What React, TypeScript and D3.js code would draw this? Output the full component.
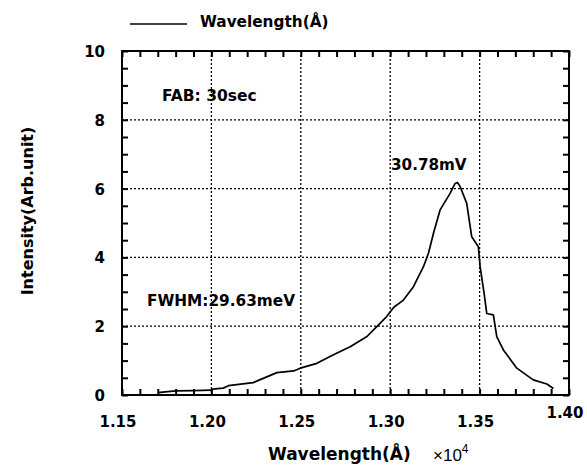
import React, { useRef, useEffect } from 'react';
import * as d3 from 'd3';

// spectrum (x in units of 1e4 Å)
const wavelength = [1.170, 1.180, 1.190, 1.1995, 1.2005, 1.2066, 1.2095, 1.2234, 1.2366, 1.246, 1.2497, 1.259, 1.268, 1.2776, 1.287, 1.2925, 1.298, 1.302, 1.3074, 1.313, 1.3186, 1.3214, 1.3242, 1.3279, 1.3335, 1.3363, 1.3376, 1.3391, 1.3428, 1.3456, 1.3493, 1.3503, 1.3525, 1.354, 1.3577, 1.3596, 1.3633, 1.3708, 1.380, 1.3876, 1.3913];
const intensity = [0.07, 0.12, 0.13, 0.14, 0.17, 0.2, 0.27, 0.36, 0.65, 0.7, 0.78, 0.92, 1.16, 1.4, 1.7, 1.99, 2.28, 2.55, 2.76, 3.15, 3.73, 4.12, 4.7, 5.38, 5.86, 6.15, 6.18, 6.06, 5.57, 4.6, 4.31, 3.73, 2.96, 2.37, 2.33, 1.7, 1.31, 0.78, 0.44, 0.32, 0.19];

const xTicks = [1.15, 1.2, 1.25, 1.3, 1.35, 1.4];
const yTicks = [0, 2, 4, 6, 8, 10];

const App = () => {
  const svgRef = useRef<SVGSVGElement>(null);

  useEffect(() => {
    if (!svgRef.current) return;
    const svg = d3.select(svgRef.current);
    svg.selectAll('*').remove();

    const left = 122, right = 569, top = 51, bottom = 395;
    const x = d3.scaleLinear().domain([1.15, 1.4]).range([left, right]);
    const y = d3.scaleLinear().domain([0, 10]).range([bottom, top]);
    const font = 'DejaVu Sans, Arial, sans-serif';

    const g = svg.append('g');

    // dotted grid
    xTicks.slice(1, -1).forEach(t => {
      g.append('line').attr('x1', x(t)).attr('x2', x(t)).attr('y1', top).attr('y2', bottom)
        .attr('stroke', '#000').attr('stroke-width', 1.3).attr('stroke-dasharray', '2,2');
    });
    yTicks.slice(1, -1).forEach(t => {
      g.append('line').attr('x1', left).attr('x2', right).attr('y1', y(t)).attr('y2', y(t))
        .attr('stroke', '#000').attr('stroke-width', 1.3).attr('stroke-dasharray', '2,2');
    });

    // frame
    g.append('rect').attr('x', left).attr('y', top).attr('width', right - left).attr('height', bottom - top)
      .attr('fill', 'none').attr('stroke', '#000').attr('stroke-width', 2);

    // minor ticks, pointing inward on all four sides
    const xMinor = d3.range(26).map(i => 1.15 + i * 0.01);
    const yMinor = d3.range(21).map(i => i * 0.5);
    const inward = (sel: any) => {
      sel.select('.domain').remove();
      sel.selectAll('text').remove();
      sel.selectAll('line').attr('stroke', '#000').attr('stroke-width', 2);
    };
    g.append('g').attr('transform', `translate(0,${bottom})`)
      .call(d3.axisBottom(x).tickValues(xMinor).tickSize(-6)).call(inward);
    g.append('g').attr('transform', `translate(0,${top})`)
      .call(d3.axisTop(x).tickValues(xMinor).tickSize(-6)).call(inward);
    g.append('g').attr('transform', `translate(${left},0)`)
      .call(d3.axisLeft(y).tickValues(yMinor).tickSize(-6)).call(inward);
    g.append('g').attr('transform', `translate(${right},0)`)
      .call(d3.axisRight(y).tickValues(yMinor).tickSize(-6)).call(inward);

    // tick labels
    xTicks.forEach((t, i) => {
      g.append('text').attr('x', x(t) - 4).attr('y', i === xTicks.length - 1 ? 418 : 427)
        .attr('text-anchor', 'middle').attr('font-family', font).attr('font-weight', 'bold')
        .attr('font-size', 15).text(t.toFixed(2));
    });
    yTicks.forEach(t => {
      g.append('text').attr('x', 105).attr('y', y(t) + 6)
        .attr('text-anchor', 'end').attr('font-family', font).attr('font-weight', 'bold')
        .attr('font-size', 15).text(String(t));
    });

    // curve
    const line = d3.line<number>().x((d, i) => x(wavelength[i])).y(d => y(d));
    g.append('path').attr('d', line(intensity)).attr('fill', 'none')
      .attr('stroke', '#000').attr('stroke-width', 1.7).attr('stroke-linejoin', 'round');

    // annotations
    const txt = (tx: number, ty: number, s: string, size = 15) =>
      g.append('text').attr('x', tx).attr('y', ty).attr('font-family', font)
        .attr('font-weight', 'bold').attr('font-size', size).text(s);
    txt(162, 101, 'FAB: 30sec', 15.5);
    txt(147, 306, 'FWHM:29.63meV', 15.3);
    txt(391, 170, '30.78mV', 15.2);

    // legend
    g.append('line').attr('x1', 130).attr('x2', 187).attr('y1', 24).attr('y2', 24)
      .attr('stroke', '#000').attr('stroke-width', 1.5);
    txt(200, 27, 'Wavelength(Å)', 15.3);

    // axis titles
    txt(268, 460, 'Wavelength(Å)', 17);
    g.append('text').attr('x', 433).attr('y', 461).attr('font-family', 'Liberation Sans, Arial, sans-serif')
      .attr('font-size', 17).text('×10')
      .append('tspan').attr('dy', -8).attr('font-size', 12).text('4');
    g.append('text').attr('transform', `translate(33,211) rotate(-90)`)
      .attr('text-anchor', 'middle').attr('font-family', font).attr('font-weight', 'bold')
      .attr('font-size', 16).text('Intensity(Arb.unit)');
  }, []);

  return (
    <svg ref={svgRef} width={587} height={466}
      style={{ position: 'absolute', left: 0, top: 0, background: '#fff' }} />
  );
};

export default App;
